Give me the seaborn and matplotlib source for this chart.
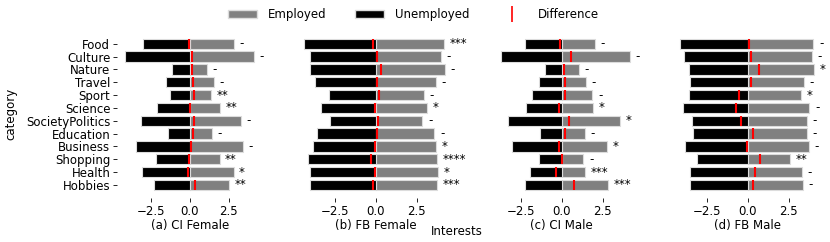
import pandas as pd
import matplotlib
matplotlib.use("Agg")
import matplotlib.pyplot as plt
import seaborn as sns
from matplotlib.patches import Patch
from matplotlib.lines import Line2D

# categories (top to bottom)
categories = ["Food", "Culture", "Nature", "Travel", "Sport", "Science",
              "SocietyPolitics", "Education", "Business", "Shopping",
              "Health", "Hobbies"]

panel_titles = ["(a) CI Female", "(b) FB Female", "(c) CI Male", "(d) FB Male"]

# employed (positive side)
employed_ci_f = [2.84, 4.14, 1.09, 1.54, 1.38, 1.94, 3.27, 1.43, 3.42, 1.92, 2.82, 2.52]
employed_fb_f = [4.12, 3.96, 4.18, 3.64, 2.91, 3.13, 2.83, 3.56, 3.66, 3.74, 3.80, 3.72]
employed_ci_m = [2.02, 4.12, 1.05, 1.45, 1.86, 1.92, 3.56, 1.39, 2.73, 1.30, 1.42, 2.83]
employed_fb_m = [3.98, 3.90, 4.02, 3.41, 3.21, 3.73, 3.58, 3.59, 3.70, 2.56, 3.27, 3.35]

# unemployed (drawn on the negative side)
unemployed_ci_f = [-2.97, -4.15, -1.11, -1.52, -1.26, -2.10, -3.14, -1.41, -3.46, -2.14, -3.08, -2.29]
unemployed_fb_f = [-4.36, -4.00, -4.00, -3.67, -2.82, -3.31, -2.79, -3.59, -3.82, -4.12, -3.96, -3.98]
unemployed_ci_m = [-2.24, -3.67, -1.00, -1.39, -1.79, -2.16, -3.25, -1.31, -3.00, -1.39, -1.90, -2.20]
unemployed_fb_m = [-4.14, -3.88, -3.58, -3.52, -3.54, -3.92, -3.36, -3.33, -3.80, -3.09, -3.48, -3.50]

# difference markers
diff_ci_f = [-0.02, 0.13, 0.12, 0.19, 0.27, 0.02, 0.25, 0.19, 0.08, -0.07, -0.13, 0.32]
diff_fb_f = [-0.16, 0.08, 0.30, 0.08, 0.20, -0.06, 0.16, 0.08, -0.04, -0.28, -0.04, -0.14]
diff_ci_m = [-0.12, 0.55, 0.16, 0.18, 0.18, -0.16, 0.45, 0.18, -0.18, 0.02, -0.36, 0.77]
diff_fb_m = [0.06, 0.20, 0.68, 0.20, -0.53, -0.69, -0.42, 0.34, -0.04, 0.76, 0.44, 0.34]

# significance
sig_ci_f = ["-", "-", "-", "-", "**", "**", "-", "-", "-", "**", "*", "**"]
sig_fb_f = ["***", "-", "-", "-", "-", "*", "-", "-", "*", "****", "*", "***"]
sig_ci_m = ["-", "-", "-", "-", "-", "*", "*", "-", "*", "-", "***", "***"]
sig_fb_m = ["-", "-", "*", "-", "*", "-", "-", "-", "-", "**", "-", "-"]

employed = [employed_ci_f, employed_fb_f, employed_ci_m, employed_fb_m]
unemployed = [unemployed_ci_f, unemployed_fb_f, unemployed_ci_m, unemployed_fb_m]
diffs = [diff_ci_f, diff_fb_f, diff_ci_m, diff_fb_m]
sigs = [sig_ci_f, sig_fb_f, sig_ci_m, sig_fb_m]
xlims = [(-4.65, 4.65), (-4.4, 4.4), (-4.4, 4.4), (-4.4, 4.4)]

sns.set_style("white")
plt.rcParams["font.family"] = ["DejaVu Sans"]
plt.rcParams["text.color"] = "black"
plt.rcParams["axes.labelcolor"] = "black"
plt.rcParams["xtick.color"] = "black"
plt.rcParams["ytick.color"] = "black"
fs = 8.5

fig, axes = plt.subplots(1, 4, figsize=(8.3, 2.42), dpi=100)
fig.subplots_adjust(left=0.1412, right=0.9882, top=0.872, bottom=0.183, wspace=0.283)

for i, ax in enumerate(axes):
    df = pd.DataFrame({"category": categories,
                       "Employed": employed[i],
                       "Unemployed": unemployed[i]})
    sns.barplot(data=df, x="Employed", y="category", color="grey",
                edgecolor="#dcdcdc", linewidth=0.8, errorbar=None, ax=ax)
    sns.barplot(data=df, x="Unemployed", y="category", color="black",
                edgecolor="#dcdcdc", linewidth=0.8, errorbar=None, ax=ax)
    ypos = range(len(categories))
    ax.vlines(diffs[i], [y - 0.4 for y in ypos], [y + 0.4 for y in ypos],
              color="red", lw=1.5, zorder=5)
    for y, (e, s) in enumerate(zip(employed[i], sigs[i])):
        ax.text(e + 0.35, y, s, va="center", ha="left", fontsize=fs)
    ax.set_xlim(*xlims[i])
    ax.set_xticks([-2.5, 0.0, 2.5])
    ax.set_xlabel(panel_titles[i], fontsize=fs, labelpad=1)
    ax.tick_params(axis="both", labelsize=fs, length=3, width=0.6,
                   bottom=True, left=True, pad=2)
    for sp in ax.spines.values():
        sp.set_visible(False)
    if i == 0:
        ax.set_ylabel("category", fontsize=fs, labelpad=6)
    else:
        ax.set_ylabel("")
        ax.set_yticklabels([])
        ax.tick_params(axis="y", left=False)

handles = [Patch(facecolor="grey", edgecolor="#dcdcdc"),
           Patch(facecolor="black", edgecolor="#dcdcdc"),
           Line2D([0], [0], color="red", marker="|", linestyle="None",
                  markersize=11, markeredgewidth=1.2)]
fig.legend(handles, ["Employed", "Unemployed", "Difference"], loc="center",
           bbox_to_anchor=(0.498, 0.94), ncol=3, frameon=False, fontsize=fs,
           handlelength=2.5, handletextpad=0.9, columnspacing=2.4)
fig.text(0.55, 0.045, "Interests", ha="center", va="center", fontsize=fs)

fig.savefig("out.png", dpi=100)
